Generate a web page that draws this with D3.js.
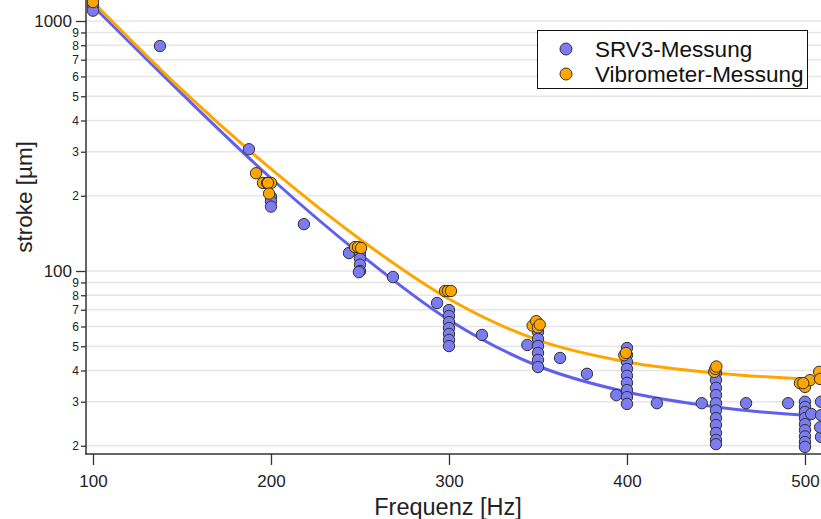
<!DOCTYPE html>
<html>
<head>
<meta charset="utf-8">
<script src="https://cdn.jsdelivr.net/npm/d3@7/dist/d3.min.js"></script>
<style>
  html, body { margin: 0; padding: 0; background: #fff; overflow: hidden; }
  svg { display: block; font-family: "Liberation Sans", Arial, sans-serif; }
</style>
</head>
<body>
<svg id="chart" width="821" height="519"></svg>
<script>
// ---- Data ----
const srvFreq = [100, 100, 137.6, 187.6, 200, 200, 200, 218.5, 243.8, 250, 250, 250, 250, 249.4, 268.5,
  293.3, 300, 300, 300, 300, 300, 300, 300, 318.5, 344, 350, 350, 350, 350, 350, 350, 350, 362.4, 377.5,
  394, 400, 400, 400, 400, 400, 400, 400, 400, 400, 416.8, 442, 450, 450, 450, 450, 450, 450, 450, 450, 450, 450, 450,
  466.9, 490.5, 500, 500, 500, 500, 500, 500, 500, 500, 500, 503.5, 509, 509, 509, 508.5];
const srvStroke = [1150, 1100, 794, 307, 198, 190, 181, 154, 118, 117, 112, 106, 100, 99, 94.6,
  74.5, 69.8, 66.1, 62.5, 59.2, 56, 53, 50.1, 55.5, 50.6, 60.8, 57, 53.5, 50.1, 47, 44.1, 41.3, 44.9, 38.8,
  31.9, 49.2, 46.1, 43.3, 40.6, 38.1, 35.7, 33.4, 31.3, 29.4, 29.6, 29.6, 39.1, 36.6, 34.1, 31.9, 29.6, 27.7, 25.8, 24.2, 22.5, 21.1, 20.3,
  29.6, 29.6, 30, 28.6, 27.3, 25.8, 24.4, 23.1, 21.8, 20.7, 19.8, 26.8, 30, 26.5, 21.7, 23.7];
const vibFreq = [100, 191.6, 195.5, 197.8, 200, 198.3, 198.9, 247.2, 248.9, 250.6, 297.8, 299.4, 301.1,
  347, 349, 350, 351, 398.5, 399.4, 449, 449.6, 450.2, 497.2, 500, 502.8, 499, 508, 508.5];
const vibStroke = [1191, 246, 225, 225, 225, 225, 204, 124.7, 124.7, 123.6, 83.2, 83.2, 83.2,
  60.5, 63, 59.5, 61, 46.1, 47, 39.5, 40.6, 41.5, 35.6, 34.4, 36.6, 35.6, 39.5, 37];
const fitFreq = [100, 150, 200, 250, 300, 350, 400, 450, 500, 512];
const srvFit = [1148, 511, 235, 117, 63.7, 41.7, 32.8, 28.6, 26.5, 26.3];
const vibFit = [1191, 530, 256, 134, 77.3, 52.9, 43.3, 39.1, 37.0, 36.7];
const xTicks = [100, 200, 300, 400, 500];
const yMajor = [100, 1000];
const yMinor = [20, 30, 40, 50, 60, 70, 80, 90, 200, 300, 400, 500, 600, 700, 800, 900];
const seriesNames = ["SRV3-Messung", "Vibrometer-Messung"];
const seriesColors = ["#7b7bf2", "#ffa500"];
const lineColors = ["#6060f0", "#ffa500"];

// ---- Layout ----
const svg = d3.select("#chart");
const pL = 86, pR = 821, pT = 0, pB = 454;

const x = d3.scaleLinear().domain([96.07, 509]).range([pL, pR]);
const y = d3.scaleLog().domain([18.54, 1213.4]).range([pB, pT]);

// grid lines
const allY = yMajor.concat(yMinor);
svg.append("g").selectAll("line").data(allY).join("line")
  .attr("x1", pL).attr("x2", pR)
  .attr("y1", d => y(d)).attr("y2", d => y(d))
  .attr("stroke", "#e6e6e6").attr("stroke-width", 1.5);

// fit curves
const line = d3.line().x(d => x(d[0])).y(d => y(d[1])).curve(d3.curveMonotoneX);
[srvFit, vibFit].forEach((vals, i) => {
  svg.append("path")
    .datum(fitFreq.map((f, j) => [f, vals[j]]))
    .attr("d", line)
    .attr("fill", "none")
    .attr("stroke", lineColors[i])
    .attr("stroke-width", 3);
});

// points
[[srvFreq, srvStroke], [vibFreq, vibStroke]].forEach((s, i) => {
  svg.append("g").selectAll("circle")
    .data(s[0].map((f, j) => [f, s[1][j]]))
    .join("circle")
    .attr("cx", d => x(d[0])).attr("cy", d => y(d[1]))
    .attr("r", 5.7)
    .attr("fill", seriesColors[i])
    .attr("stroke", "#333")
    .attr("stroke-width", 1);
});

// y axis
const yAxisMajor = d3.axisLeft(y).tickValues(yMajor).tickSize(10).tickSizeOuter(0).tickFormat(d3.format("d"));
const gyM = svg.append("g").attr("transform", `translate(${pL},0)`).call(yAxisMajor);
gyM.select(".domain").remove();
gyM.selectAll("text").attr("font-size", 17).attr("font-family", "Liberation Sans, Arial").attr("fill", "#222").attr("x", -14);
gyM.selectAll("line").attr("stroke", "#333").attr("stroke-width", 1.3);

const yAxisMinor = d3.axisLeft(y).tickValues(yMinor).tickSize(5).tickSizeOuter(0)
  .tickFormat(d => String(d >= 100 ? d / 100 : d / 10));
const gym = svg.append("g").attr("transform", `translate(${pL},0)`).call(yAxisMinor);
gym.select(".domain").remove();
gym.selectAll("text").attr("font-size", 12).attr("font-family", "Liberation Sans, Arial").attr("fill", "#222").attr("x", -7);
gym.selectAll("line").attr("stroke", "#333").attr("stroke-width", 1.3);

svg.append("line").attr("x1", pL).attr("x2", pL).attr("y1", pT).attr("y2", pB + 0.5)
  .attr("stroke", "#333").attr("stroke-width", 1.5);

// x axis
const xAxis = d3.axisBottom(x).tickValues(xTicks).tickSize(11).tickSizeOuter(0).tickFormat(d3.format("d"));
const gx = svg.append("g").attr("transform", `translate(0,${pB})`).call(xAxis);
gx.select(".domain").remove();
gx.selectAll("text").attr("font-size", 17).attr("font-family", "Liberation Sans, Arial").attr("fill", "#222").attr("dy", "1.05em").attr("y", 15);
gx.selectAll("line").attr("stroke", "#333").attr("stroke-width", 1.3);
svg.append("line").attr("x1", pL - 0.7).attr("x2", pR).attr("y1", pB).attr("y2", pB)
  .attr("stroke", "#333").attr("stroke-width", 1.5);

// axis titles
svg.append("text").attr("x", 448).attr("y", 515).attr("text-anchor", "middle")
  .attr("font-size", 23.5).attr("fill", "#222").text("Frequenz [Hz]");
svg.append("text").attr("transform", "translate(32,197) rotate(-90)").attr("text-anchor", "middle")
  .attr("font-size", 22.5).attr("fill", "#222").text("stroke [µm]");

// legend
const lg = svg.append("g");
lg.append("rect").attr("x", 537.5).attr("y", 30.5).attr("width", 270).attr("height", 58)
  .attr("fill", "#fff").attr("stroke", "#111").attr("stroke-width", 1);
seriesNames.forEach((n, i) => {
  lg.append("circle").attr("cx", 566).attr("cy", 49 + i * 25).attr("r", 6)
    .attr("fill", seriesColors[i]).attr("stroke", "#333").attr("stroke-width", 1);
  lg.append("text").attr("x", 595).attr("y", 56.5 + i * 25).attr("font-size", 22.5)
    .attr("fill", "#111").text(n);
});
</script>
</body>
</html>
